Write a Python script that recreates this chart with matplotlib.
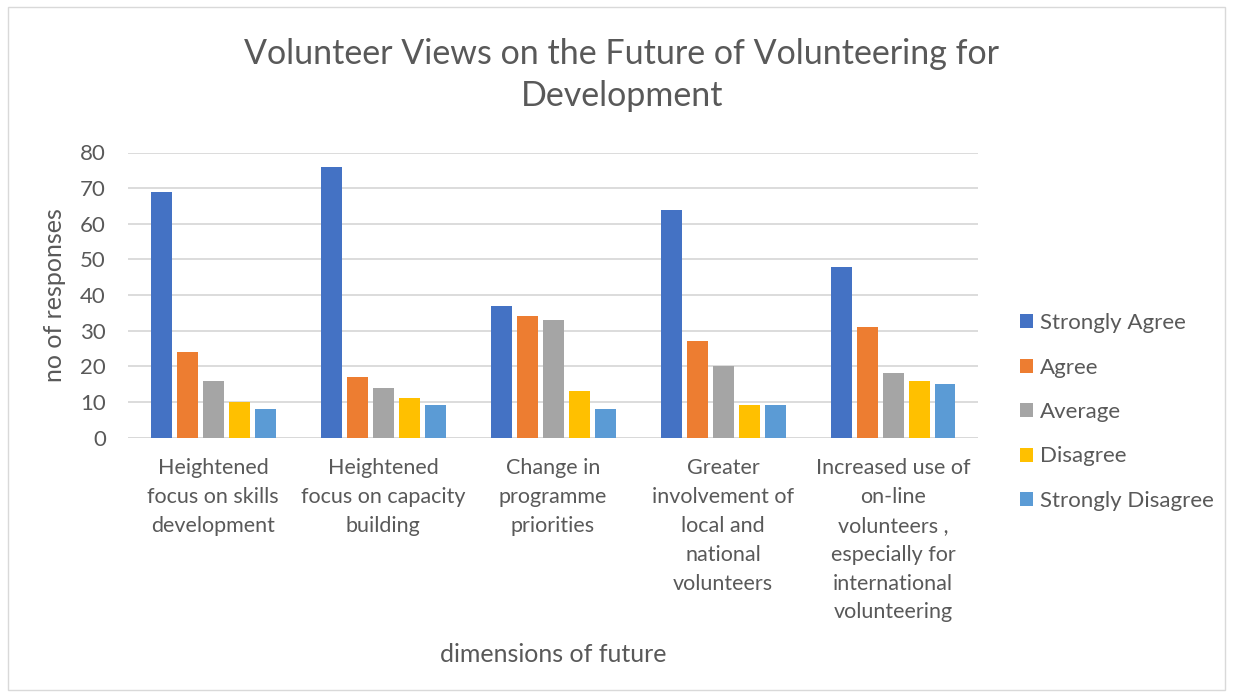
import numpy as np
import matplotlib.pyplot as plt
from matplotlib.patches import Rectangle

plt.rcParams['font.family'] = ['Lato', 'DejaVu Sans']

categories = ["Heightened\nfocus on skills\ndevelopment",
              "Heightened\nfocus on capacity\nbuilding",
              "Change in\nprogramme\npriorities",
              "Greater\ninvolvement of\nlocal and\nnational\nvolunteers",
              "Increased use of\non-line\nvolunteers ,\nespecially for\ninternational\nvolunteering"]
series = ["Strongly Agree", "Agree", "Average", "Disagree", "Strongly Disagree"]
strongly_agree = [69, 76, 37, 64, 48]
agree = [24, 17, 34, 27, 31]
average = [16, 14, 33, 20, 18]
disagree = [10, 11, 13, 9, 16]
strongly_disagree = [8, 9, 8, 9, 15]
colors = ['#4472C4', '#ED7D31', '#A5A5A5', '#FFC000', '#5B9BD5']

txt = '#595959'
fig = plt.figure(figsize=(12.33, 6.97), dpi=100)
fig.patches.append(Rectangle((8/1233, 7/697), 1217/1233, 683/697, transform=fig.transFigure,
                             fill=False, edgecolor='#D9D9D9', lw=1))
ax = fig.add_axes([128/1233, 1-437.5/697, 850/1233, 285/697])

x = np.arange(len(categories))
step = 26/170
for i, (name, vals) in enumerate(zip(series, [strongly_agree, agree, average, disagree, strongly_disagree])):
    ax.bar(x + (i-2)*step, vals, width=21/170, color=colors[i], label=name, zorder=3)

ax.set_xlim(-0.5, 4.5)
ax.set_ylim(0, 80)
ax.set_yticks(range(0, 81, 10))
ax.yaxis.grid(True, color='#D9D9D9', lw=1.3, zorder=0)
for s in ax.spines.values():
    s.set_visible(False)
ax.tick_params(axis='y', length=0, labelsize=16, colors=txt, pad=16)
ax.tick_params(axis='x', length=0, labelsize=15.5, colors=txt, pad=15)
ax.set_xticks(x)
ax.set_xticklabels(categories, linespacing=1.55, va='top')
ax.axhline(0, color='#D9D9D9', lw=1.3, zorder=2)

ax.set_ylabel('no of responses', fontsize=18, color=txt, labelpad=10)
fig.text(553/1233, 1-655/697, 'dimensions of future', fontsize=18, color=txt, ha='center', va='center')
fig.text(622/1233, 1-75/697, 'Volunteer Views on the Future of Volunteering for\nDevelopment',
         fontsize=24.5, color=txt, ha='center', va='center', linespacing=1.35)

leg = ax.legend(loc='center left', bbox_to_anchor=((1000-128)/850, (437.5-412)/285), frameon=False,
                fontsize=16, labelspacing=1.1, handlelength=0.6, handleheight=0.6,
                handletextpad=0.3, labelcolor=txt)

fig.savefig('out.png', dpi=100)
